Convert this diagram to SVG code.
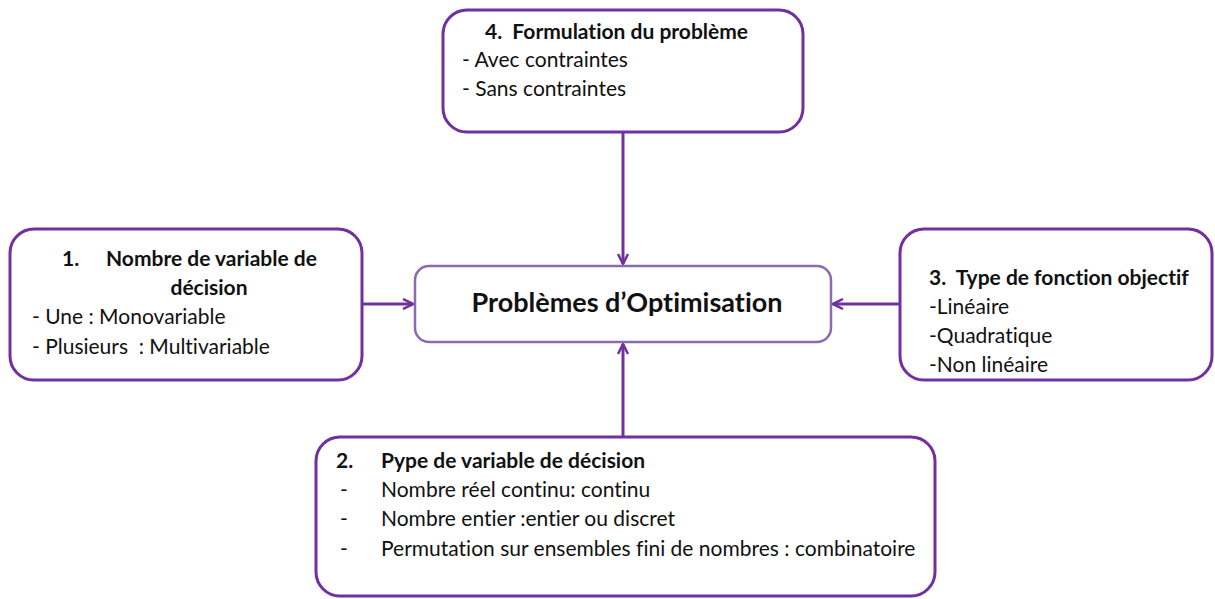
<svg xmlns="http://www.w3.org/2000/svg" width="1215" height="599" viewBox="0 0 1215 599" xml:space="preserve">
<style>
.box{fill:#fff;stroke:#7030A0;stroke-width:3}
.center{fill:#fff;stroke:#8A6BB0;stroke-width:2.5}
text{font-family:Lato,"Open Sans",sans-serif;fill:#111;font-size:21px;white-space:pre;font-variant-ligatures:none;font-feature-settings:"liga" 0,"dlig" 0}
.b{font-weight:bold}
.title{font-weight:bold;font-size:27px}
.conn{stroke:#7030A0;stroke-width:3;fill:none}
</style>
<defs>
<marker id="arr" viewBox="0 0 12 12" refX="11" refY="6" markerWidth="12" markerHeight="12" markerUnits="userSpaceOnUse" orient="auto">
<path d="M1,1 L11,6 L1,11" fill="none" stroke="#7030A0" stroke-width="2.5"/>
</marker>
</defs>
<rect width="1215" height="599" fill="#fff"/>
<g id="connectors">
<line class="conn" x1="623" y1="132" x2="623" y2="264" marker-end="url(#arr)"/>
<line class="conn" x1="362" y1="304" x2="413" y2="304" marker-end="url(#arr)"/>
<line class="conn" x1="900" y1="304" x2="833" y2="304" marker-end="url(#arr)"/>
<line class="conn" x1="623" y1="437" x2="623" y2="344" marker-end="url(#arr)"/>
</g>
<g id="node-center">
<rect class="center" x="415" y="266" width="416" height="76" rx="14"/>
<text class="title" x="627" y="312" text-anchor="middle">Problèmes d’Optimisation</text>
</g>
<g id="node-4">
<rect class="box" x="443" y="10" width="360" height="122" rx="24"/>
<text class="b" x="485" y="39">4.  Formulation du problème</text>
<text x="462" y="67">- Avec contraintes</text>
<text x="462" y="96">- Sans contraintes</text>
</g>
<g id="node-1">
<rect class="box" x="10" y="229" width="352" height="151" rx="24"/>
<text class="b" x="62" y="266">1.</text>
<text class="b" x="106" y="266">Nombre de variable de</text>
<text class="b" x="209" y="295" text-anchor="middle">décision</text>
<text x="32" y="324">- Une : Monovariable</text>
<text x="32" y="354">- Plusieurs  : Multivariable</text>
</g>
<g id="node-3">
<rect class="box" x="900" y="229" width="312" height="151" rx="24"/>
<text class="b" x="929" y="285">3.  Type de fonction objectif</text>
<text x="929" y="314">-Linéaire</text>
<text x="929" y="343">-Quadratique</text>
<text x="929" y="372">-Non linéaire</text>
</g>
<g id="node-2">
<rect class="box" x="316" y="437" width="619" height="159" rx="24"/>
<text class="b" x="336" y="468">2.</text>
<text class="b" x="381" y="468">Pype de variable de décision</text>
<text x="340" y="497">-</text>
<text x="381" y="497">Nombre réel continu: continu</text>
<text x="340" y="526">-</text>
<text x="381" y="526">Nombre entier :entier ou discret</text>
<text x="340" y="556">-</text>
<text x="381" y="556">Permutation sur ensembles fini de nombres : combinatoire</text>
</g>
</svg>
